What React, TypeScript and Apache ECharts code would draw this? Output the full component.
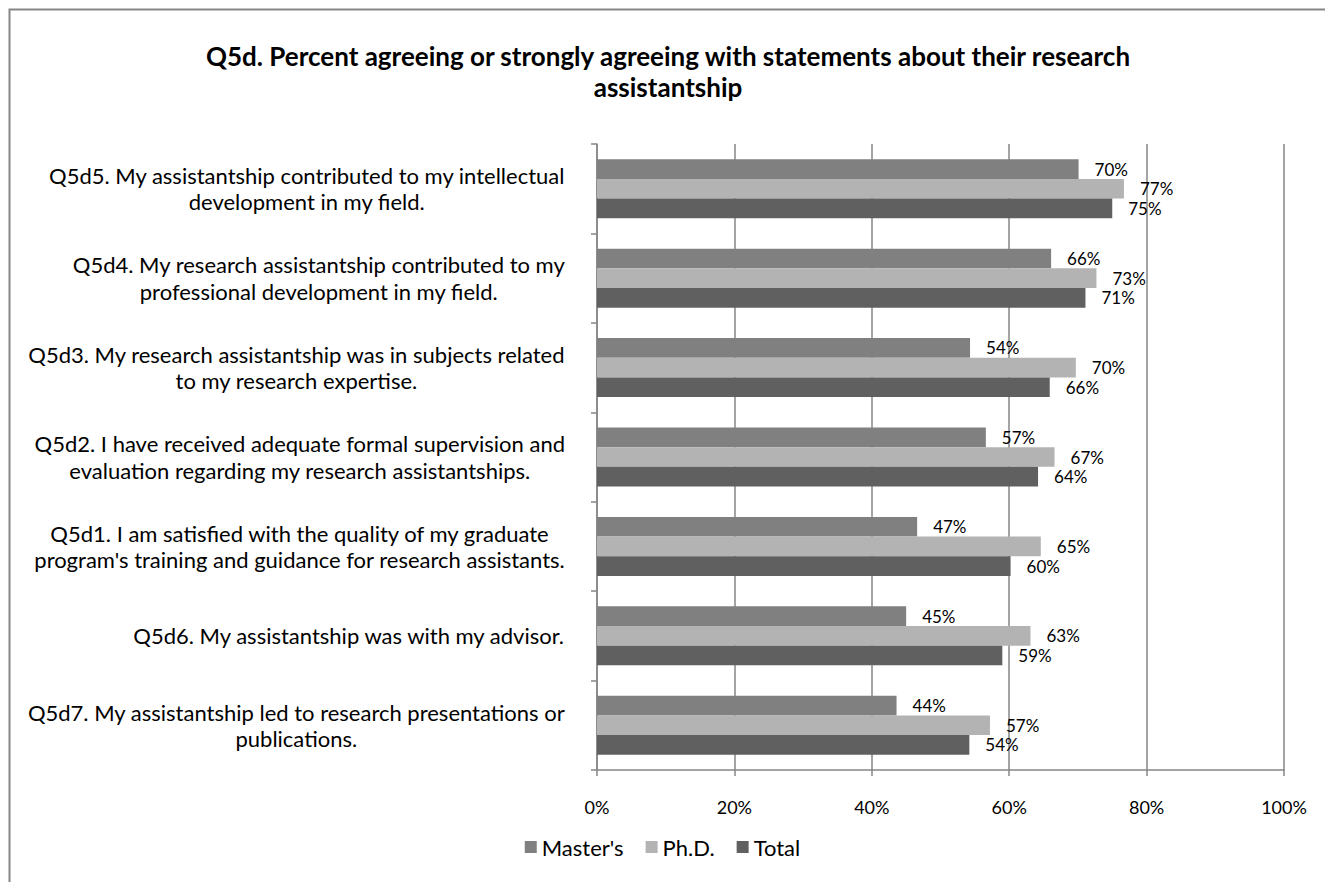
import React, { useEffect, useRef } from "react";
import * as echarts from "echarts";

const categories = [
  "Q5d5. My assistantship contributed to my intellectual\ndevelopment in my field.",
  "Q5d4. My research assistantship contributed to my\nprofessional development in my field.",
  "Q5d3. My research assistantship was in subjects related\nto my research expertise.",
  "Q5d2. I have received adequate formal supervision and\nevaluation regarding my research assistantships.",
  "Q5d1. I am satisfied with the quality of my graduate\nprogram's training and guidance for research assistants.",
  "Q5d6. My assistantship was with my advisor.",
  "Q5d7. My assistantship led to research presentations or\npublications.",
];

const mastersValues = [70.1, 66.1, 54.3, 56.6, 46.6, 45.0, 43.6];
const phdValues = [76.7, 72.7, 69.7, 66.6, 64.6, 63.1, 57.2];
const totalValues = [75.0, 71.1, 65.9, 64.2, 60.2, 59.0, 54.2];

const seriesNames = ["Master's", "Ph.D.", "Total"];
const seriesColors = ["#808080", "#b3b3b3", "#606060"];

const xTicks = [0, 20, 40, 60, 80, 100];

const titleText =
  "Q5d. Percent agreeing or strongly agreeing with statements about their research\nassistantship";

const FONT = "Lato, 'Open Sans', sans-serif";

export default function App() {
  const ref = useRef<HTMLDivElement>(null);

  useEffect(() => {
    document.body.style.margin = "0";
    if (!ref.current) return;
    const chart = echarts.init(ref.current, undefined, { renderer: "svg" });
    const dataSets = [mastersValues, phdValues, totalValues];

    chart.setOption({
      animation: false,
      backgroundColor: "#ffffff",
      textStyle: { fontFamily: FONT },
      title: {
        text: titleText,
        left: 663,
        top: 35,
        textAlign: "center",
        textStyle: {
          fontFamily: FONT,
          fontSize: 26,
          fontWeight: "bold",
          color: "#000000",
          lineHeight: 31.5,
        },
      },
      graphic: [
        {
          type: "rect",
          left: 7,
          top: 7,
          shape: { x: 0, y: 0, width: 1340, height: 900 },
          style: { fill: "none", stroke: "#868686", lineWidth: 2 },
          silent: true,
          z: -1,
        },
      ],
      legend: {
        data: seriesNames,
        left: "center",
        top: 831,
        icon: "rect",
        itemWidth: 12,
        itemHeight: 12,
        itemGap: 22,
        textStyle: { fontFamily: FONT, fontSize: 22, color: "#000000" },
      },
      grid: {
        left: 597,
        right: 41,
        top: 144,
        bottom: 112,
        containLabel: false,
      },
      xAxis: {
        type: "value",
        min: 0,
        max: 100,
        interval: 20,
        axisLine: { show: true, lineStyle: { color: "#868686", width: 1.5 } },
        axisTick: { show: true, length: 6, lineStyle: { color: "#868686", width: 1.5 } },
        splitLine: { show: true, lineStyle: { color: "#868686", width: 1.5 } },
        axisLabel: {
          formatter: (v: number) => (xTicks.includes(v) ? `${v}%` : ""),
          margin: 28,
          fontFamily: FONT,
          fontSize: 18,
          color: "#000000",
        },
      },
      yAxis: {
        type: "category",
        inverse: true,
        data: categories,
        axisLine: { show: true, lineStyle: { color: "#868686", width: 1.5 } },
        axisTick: { show: true, length: 6, lineStyle: { color: "#868686", width: 1.5 } },
        axisLabel: {
          interval: 0,
          margin: 32,
          fontFamily: FONT,
          fontSize: 22,
          color: "#000000",
          lineHeight: 26.5,
          formatter: (v: string) =>
            v
              .split("\n")
              .map((line) => `{c|${line}}`)
              .join("\n"),
          rich: {
            c: {
              align: "center",
              fontFamily: FONT,
              fontSize: 22,
              color: "#000000",
              lineHeight: 26.5,
            },
          },
        },
      },
      series: seriesNames.map((name, i) => ({
        name,
        type: "bar",
        data: dataSets[i],
        barGap: "0%",
        barCategoryGap: "34%",
        itemStyle: { color: seriesColors[i] },
        label: {
          show: true,
          position: "right",
          distance: 16,
          formatter: (p: any) => `${Math.round(p.value)}%`,
          fontFamily: FONT,
          fontSize: 17,
          color: "#000000",
        },
      })),
    });

    return () => {
      chart.dispose();
    };
  }, []);

  return <div ref={ref} style={{ width: 1325, height: 882 }} />;
}
